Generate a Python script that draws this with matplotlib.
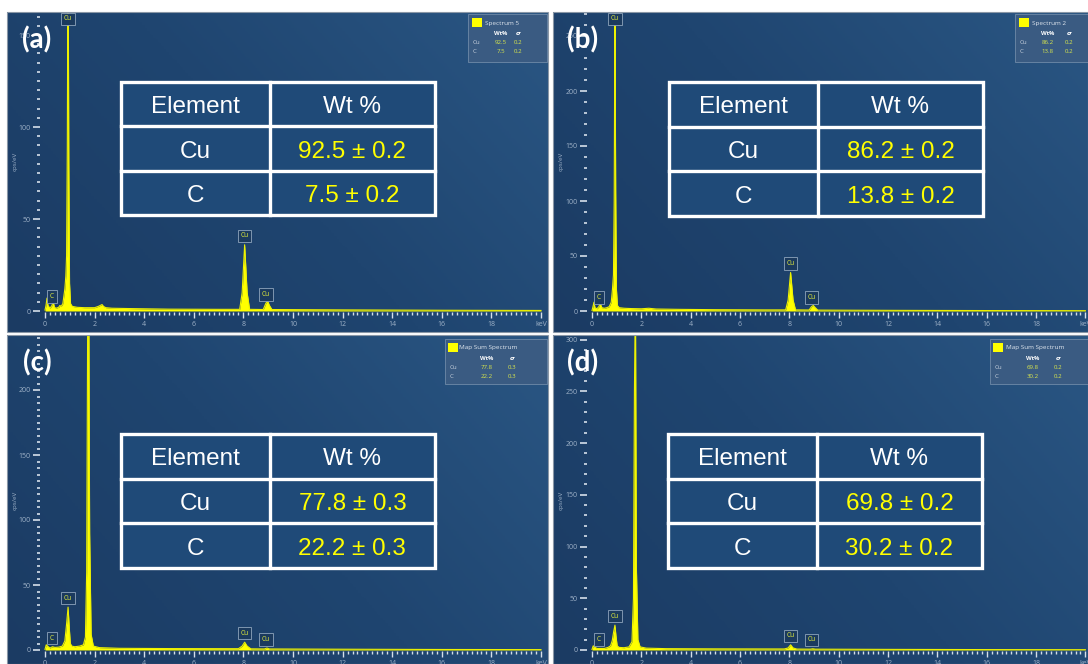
import numpy as np
import matplotlib
matplotlib.use("Agg")
import matplotlib.pyplot as plt
from matplotlib.patches import Rectangle
from matplotlib.colors import LinearSegmentedColormap

W, H = 1088, 664

# EDS spectra: energy (keV) vs intensity (cps/eV)
energy_a = [0.0, 0.04, 0.08, 0.12, 0.2, 0.28, 0.33, 0.38, 0.45, 0.55, 0.6, 0.65, 0.72, 0.8,
            0.84, 0.87, 0.9, 0.93, 0.96, 0.99, 1.03, 1.1, 1.3, 1.6, 2.0, 2.15, 2.3, 2.36, 2.45,
            2.7, 3.5, 5.0, 7.0, 7.85, 7.95, 8.05, 8.15, 8.25, 8.8, 8.9, 8.97, 9.05, 9.15,
            12.0, 16.0, 20.0]
counts_a = [0.5, 3, 7, 3, 1.5, 3, 5, 2, 1.5, 2, 3, 2.5, 4, 12,
            19, 30, 90, 215, 80, 15, 4, 2.5, 2, 1.8, 1.8, 2.5, 3.5, 2.5, 1.8,
            1.5, 1.3, 1.0, 0.9, 0.9, 10, 36, 10, 0.9, 0.8, 4, 5.6, 3, 0.8,
            0.6, 0.4, 0.3]

energy_b = [0.0, 0.04, 0.08, 0.12, 0.2, 0.28, 0.33, 0.4, 0.5, 0.6, 0.7, 0.78, 0.83, 0.87,
            0.9, 0.93, 0.96, 0.99, 1.03, 1.1, 1.3, 1.6, 2.0, 2.3, 2.6, 3.5, 5.0, 7.0, 7.85,
            7.95, 8.05, 8.15, 8.25, 8.8, 8.9, 8.97, 9.05, 9.15, 12.0, 16.0, 20.0]
counts_b = [0.5, 4, 8, 3, 2, 4, 7, 3, 2.5, 3, 4, 8, 20, 33,
            100, 290, 110, 20, 5, 3, 2.5, 2.2, 2, 2.5, 1.8, 1.5, 1.2, 1.0, 1.0,
            10, 35, 10, 1.0, 0.9, 4, 5, 3, 0.8, 0.6, 0.4, 0.3]

energy_c = [0.0, 0.05, 0.1, 0.2, 0.3, 0.4, 0.55, 0.7, 0.8, 0.87, 0.93, 0.97, 1.02, 1.08,
            1.2, 1.4, 1.55, 1.63, 1.68, 1.72, 1.76, 1.80, 1.86, 1.95, 2.2, 3.0, 5.0, 7.8,
            7.95, 8.05, 8.15, 8.3, 8.85, 8.95, 9.05, 12.0, 16.0, 20.0]
counts_c = [0.5, 4, 3, 1.5, 2.5, 2, 2.2, 3, 7, 20, 33, 20, 5, 3,
            2.5, 3, 4, 10, 60, 250, 300, 90, 12, 3, 1.8, 1.3, 1.1, 1.0,
            3, 6, 3, 0.9, 0.8, 1.5, 0.8, 0.6, 0.4, 0.3]

energy_d = [0.0, 0.05, 0.1, 0.2, 0.35, 0.5, 0.65, 0.75, 0.82, 0.88, 0.93, 0.97, 1.02, 1.1,
            1.3, 1.5, 1.62, 1.68, 1.72, 1.76, 1.8, 1.86, 1.95, 2.2, 3.0, 5.0, 7.8, 7.95,
            8.05, 8.15, 8.3, 8.85, 8.95, 9.05, 12.0, 16.0, 20.0]
counts_d = [0.5, 4, 3, 1.5, 1.5, 1.5, 2.5, 4, 9, 18, 24, 14, 4, 2.5,
            2.2, 3, 8, 50, 250, 350, 80, 10, 3, 1.8, 1.3, 1.1, 1.0, 2,
            5, 2, 0.9, 0.8, 1.2, 0.8, 0.6, 0.4, 0.3]

energies = [energy_a, energy_b, energy_c, energy_d]
counts = [counts_a, counts_b, counts_c, counts_d]

# quantification results
wt_cu = [92.5, 86.2, 77.8, 69.8]
wt_c = [7.5, 13.8, 22.2, 30.2]
sigma = [0.2, 0.2, 0.3, 0.2]
spectrum_names = ["Spectrum 5", "Spectrum 2", "Map Sum Spectrum", "Map Sum Spectrum"]
tags = ["(a)", "(b)", "(c)", "(d)"]

# labelled X-ray lines
line_elements = ["C", "Cu", "Cu", "Cu"]
line_energies = [0.28, 0.93, 8.05, 8.9]
y_minor_step = [5, 10, 5, 10]

# layout in pixels: panel box, origin (0 keV, 0 cps), px per keV, px per cps/eV
panels = [
    dict(box=(7, 12, 548, 332), origin=(45, 311), sx=24.8, sy=1.84,
         table=(121, 82, 435, 215), legend=(468, 14, 547, 62, 4, 17, 33, 50)),
    dict(box=(553, 12, 1088, 332), origin=(592, 311), sx=24.67, sy=1.10,
         table=(669, 82, 983, 216), legend=(1015, 14, 1094, 62, 4, 17, 33, 54)),
    dict(box=(7, 335, 548, 664), origin=(45, 650), sx=24.8, sy=1.30,
         table=(121, 434, 435, 568), legend=(445, 339, 547, 384, 3, 14, 42, 67)),
    dict(box=(553, 335, 1088, 664), origin=(592, 650), sx=24.67, sy=1.035,
         table=(668, 434, 982, 568), legend=(990, 339, 1092, 384, 3, 16, 43, 68)),
]

BG = LinearSegmentedColormap.from_list("bg", ["#1b3b63", "#1f4570", "#2a5683"])
TICK = "#d5dfea"
TLAB = "#9fb2c8"
YEL = "#ffff00"
LEG_YEL = "#d8e64c"

fig = plt.figure(figsize=(W / 100, H / 100), dpi=100)
fig.patch.set_facecolor("white")


def fx(x):
    return x / W


def fy(y):
    return 1 - y / H


def px_rect(x0, y0, x1, y1, **kw):
    return Rectangle((fx(x0), fy(y1)), (x1 - x0) / W, (y1 - y0) / H,
                     transform=fig.transFigure, **kw)


gx, gy = np.meshgrid(np.linspace(0, 1, 200), np.linspace(0, 1, 200))
grad = 0.65 * gx + 0.35 * gy

for i, p in enumerate(panels):
    x0, y0, x1, y1 = p["box"]
    ox, oy = p["origin"]
    sx, sy = p["sx"], p["sy"]
    ax = fig.add_axes([fx(x0), fy(y1), (x1 - x0) / W, (y1 - y0) / H])
    ax.imshow(grad, extent=(0, 1, 0, 1), transform=ax.transAxes, cmap=BG,
              aspect="auto", origin="lower", zorder=0)
    xlim = ((x0 - ox) / sx, (x1 - ox) / sx)
    ylim = ((oy - y1) / sy, (oy - y0) / sy)

    e = np.array(energies[i])
    c = np.array(counts[i])
    ax.fill_between(e, c, 0, color=YEL, lw=0, zorder=3)
    ax.plot(e, c, color="#eef200", lw=0.8, zorder=3)

    # peak markers
    for el, le in zip(line_elements, line_energies):
        v = np.interp(le, e, c)
        top_y = (oy - (y0 + 7)) / sy
        ly = min(v + 9 / sy, top_y)
        ax.text(le, ly, el, ha="center", va="center", fontsize=4.8, color="#e4ef3c",
                family="Open Sans", zorder=5,
                bbox=dict(boxstyle="square,pad=0.4", fc="#1b3a5e", ec="#8ea4bc", lw=0.6))

    ax.set_xlim(*xlim)
    ax.set_ylim(*ylim)
    for s in ["top", "right"]:
        ax.spines[s].set_visible(False)
    ax.spines["left"].set_position(("data", -5 / sx))
    ax.spines["bottom"].set_position(("data", -1 / sy))
    ax.spines["left"].set_visible(False)
    ax.spines["bottom"].set_visible(False)

    ax.set_xticks(np.arange(0, 21, 2))
    ax.set_xticklabels([str(v) for v in range(0, 20, 2)] + ["keV"])
    ax.set_xticks(np.arange(0, 20.01, 0.2), minor=True)
    ax.set_yticks(np.arange(0, ylim[1], 50))
    ax.set_yticks(np.arange(0, ylim[1], y_minor_step[i]), minor=True)
    ax.tick_params(axis="x", which="major", direction="out", length=4, width=1.0,
                   color=TICK, labelcolor=TLAB, labelsize=5, pad=2.5)
    ax.tick_params(axis="x", which="minor", direction="out", length=2, width=1.0, color=TICK)
    ax.tick_params(axis="y", which="major", direction="out", length=5, width=1.2,
                   color=TICK, labelcolor=TLAB, labelsize=5, pad=1.5)
    ax.tick_params(axis="y", which="minor", direction="out", length=2.5, width=1.2, color=TICK)
    for lab in ax.get_xticklabels() + ax.get_yticklabels():
        lab.set_family("Open Sans")

    fig.text(fx(x0 + 8), fy(oy - 150), "cps/eV", rotation=90, ha="center", va="center",
             fontsize=4.5, color=TLAB, family="Open Sans")

    # panel frame
    fig.add_artist(px_rect(x0, y0, x1, y1, fill=False, ec="#8a97a6", lw=0.8))

    # panel tag
    fig.text(fx(x0 + 30), fy(y0 + 28), tags[i], ha="center", va="center", fontsize=20,
             weight="bold", color="white", family="Lato")

    # composition table
    tx0, ty0, tx1, ty1 = p["table"]
    fig.add_artist(px_rect(tx0, ty0, tx1, ty1, fc="#1f4a78", ec="white", lw=2.4))
    rh = (ty1 - ty0) / 3
    cx = tx0 + 0.474 * (tx1 - tx0)
    for k in (1, 2):
        fig.add_artist(plt.Line2D([fx(tx0), fx(tx1)], [fy(ty0 + k * rh)] * 2,
                                  transform=fig.transFigure, color="white", lw=2.4))
    fig.add_artist(plt.Line2D([fx(cx)] * 2, [fy(ty0), fy(ty1)],
                              transform=fig.transFigure, color="white", lw=2.4))
    c1 = (tx0 + cx) / 2
    c2 = (cx + tx1) / 2
    rows = [("Element", "Wt %", "white"),
            ("Cu", f"{wt_cu[i]:.1f} ± {sigma[i]:.1f}", YEL),
            ("C", f"{wt_c[i]:.1f} ± {sigma[i]:.1f}", YEL)]
    for k, (a, b, col) in enumerate(rows):
        yc = fy(ty0 + (k + 0.5) * rh + 3)
        fig.text(fx(c1), yc, a, ha="center", va="center", fontsize=17.5,
                 color="white", family="Liberation Sans")
        fig.text(fx(c2), yc, b, ha="center", va="center", fontsize=17.5,
                 color=col, family="Liberation Sans")

    # spectrum legend box
    lx0, ly0, lx1, ly1, sq, nx, wx, sgx = p["legend"]
    fig.add_artist(px_rect(lx0, ly0, lx1, ly1, fc="#3a5b82", ec="#6f8aa8", lw=0.6))
    fig.add_artist(px_rect(lx0 + sq, ly0 + 4, lx0 + sq + 10, ly0 + 13, fc=YEL, ec="none"))
    fig.text(fx(lx0 + nx), fy(ly0 + 9), spectrum_names[i], ha="left", va="center",
             fontsize=4.6, color="#dfe6ee", family="Open Sans")
    fig.text(fx(lx0 + wx), fy(ly0 + 19.5), "Wt%", ha="center", va="center",
             fontsize=4.2, color="white", weight="bold", family="Open Sans")
    fig.text(fx(lx0 + sgx), fy(ly0 + 19.5), "σ", ha="center", va="center",
             fontsize=4.4, color="white", style="italic", weight="bold", family="DejaVu Sans")
    for k, (el, val) in enumerate([("Cu", wt_cu[i]), ("C", wt_c[i])]):
        yy = fy(ly0 + 28.5 + 9 * k)
        fig.text(fx(lx0 + 5), yy, el, ha="left", va="center", fontsize=4.4,
                 color="#c9d3df", family="Open Sans")
        fig.text(fx(lx0 + wx), yy, f"{val:.1f}", ha="center", va="center", fontsize=4.4,
                 color=LEG_YEL, family="Open Sans")
        fig.text(fx(lx0 + sgx), yy, f"{sigma[i]:.1f}", ha="center", va="center",
                 fontsize=4.4, color=LEG_YEL, family="Open Sans")

fig.savefig("out.png", dpi=100, facecolor="white")
